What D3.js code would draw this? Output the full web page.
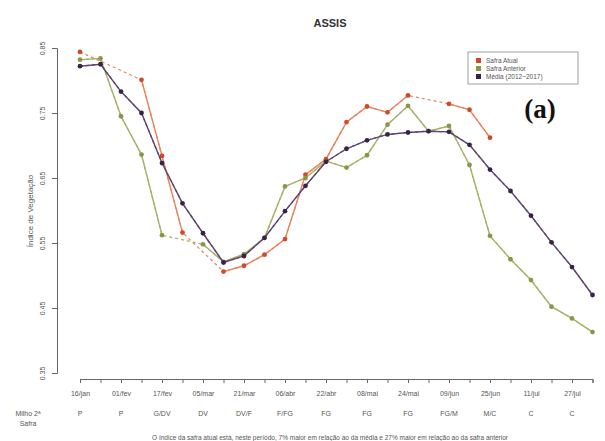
<!DOCTYPE html>
<html>
<head>
<meta charset="utf-8">
<script src="https://cdn.jsdelivr.net/npm/d3@7"></script>
<style>
  body { margin: 0; background: #fff; }
  svg { font-family: "Liberation Sans", Arial, sans-serif; }
</style>
</head>
<body>
<script>
// Rótulos de datas (a cada 16 dias) e estádios do milho
var datas = ["16/jan", "01/fev", "17/fev", "05/mar", "21/mar", "06/abr", "22/abr",
             "08/mai", "24/mai", "09/jun", "25/jun", "11/jul", "27/jul"];
var estadios = ["P", "P", "G/DV", "DV", "DV/F", "F/FG", "FG", "FG", "FG", "FG/M", "M/C", "C", "C"];

// Índice de vegetação a cada 8 dias (null = sem dado)
var safraAtual = [0.844, null, null, 0.801, 0.684, 0.566, null, 0.506, 0.515, 0.532, 0.556, 0.655, 0.679,
                  0.736, 0.760, 0.751, 0.777, null, 0.764, 0.755, 0.712, null, null, null, null, null];
var safraAnterior = [0.832, 0.834, 0.745, 0.686, 0.562, null, 0.548, 0.521, 0.533, 0.558, 0.637, 0.650, 0.676,
                     0.666, 0.685, 0.732, 0.761, 0.722, 0.730, 0.670, 0.561, 0.525, 0.493, 0.452, 0.434, 0.413];
var media = [0.822, 0.825, 0.783, 0.750, 0.673, 0.611, 0.565, 0.520, 0.530, 0.558, 0.599, 0.638, 0.675,
             0.695, 0.708, 0.717, 0.720, 0.722, 0.721, 0.701, 0.663, 0.630, 0.592, 0.551, 0.513, 0.470];
var yTicks = [0.35, 0.45, 0.55, 0.65, 0.75, 0.85];

var series = [
  { nome: "Safra Atual", valores: safraAtual, linha: "#e8825c", ponto: "#d0492c" },
  { nome: "Safra Anterior", valores: safraAnterior, linha: "#a9b066", ponto: "#8a964a" },
  { nome: "Média (2012~2017)", valores: media, linha: "#5e4570", ponto: "#3a2148" }
];

var svgWidth = 605;
var svgHeight = 441;

var svg = d3.select("body")
  .append("svg")
  .attr("width", svgWidth)
  .attr("height", svgHeight);

// Escalas
var xScale = d3.scaleLinear().domain([0, 25]).range([80, 592.5]);
var yScale = d3.scaleLinear().domain([0.35, 0.85]).range([373, 48]);

// Título
svg.append("text")
  .attr("x", 330).attr("y", 27)
  .attr("text-anchor", "middle")
  .attr("font-size", 11).attr("font-weight", "bold")
  .attr("fill", "#333")
  .text("ASSIS");

// Eixo y
var eixoY = svg.append("g")
  .attr("transform", "translate(57,0)")
  .call(d3.axisLeft(yScale).tickValues(yTicks).tickSizeOuter(0).tickSize(5)
    .tickFormat(d3.format(".2f")));
eixoY.select(".domain").attr("stroke", "#666");
eixoY.selectAll(".tick line").attr("stroke", "#666");
eixoY.selectAll(".tick text")
  .attr("font-size", 7).attr("fill", "#555")
  .attr("transform", "rotate(-90)")
  .attr("x", 0).attr("y", -12)
  .attr("dy", 0)
  .attr("text-anchor", "middle");

svg.append("text")
  .attr("transform", "translate(33,211) rotate(-90)")
  .attr("text-anchor", "middle")
  .attr("font-size", 8).attr("fill", "#555")
  .text("Índice de Vegetação");

// Eixo x
var eixoX = svg.append("g")
  .attr("transform", "translate(0,379)")
  .call(d3.axisBottom(xScale).tickValues(d3.range(26)).tickSizeOuter(0).tickSize(4)
    .tickFormat(function(i) { return i % 2 === 0 ? datas[i / 2] : ""; }));
eixoX.select(".domain").attr("stroke", "#666");
eixoX.selectAll(".tick line").attr("stroke", "#666");
eixoX.selectAll(".tick text")
  .attr("font-size", 7).attr("fill", "#555")
  .attr("y", 12);

// Estádios
svg.append("text")
  .attr("x", 28).attr("y", 416)
  .attr("text-anchor", "middle")
  .attr("font-size", 7).attr("fill", "#555")
  .text("Milho 2ª");
svg.append("text")
  .attr("x", 28).attr("y", 426)
  .attr("text-anchor", "middle")
  .attr("font-size", 7).attr("fill", "#555")
  .text("Safra");
svg.selectAll(".estadio")
  .data(estadios)
  .enter().append("text")
  .attr("class", "estadio")
  .attr("x", function(d, i) { return xScale(i * 2); })
  .attr("y", 416)
  .attr("text-anchor", "middle")
  .attr("font-size", 7).attr("fill", "#555")
  .text(function(d) { return d; });

svg.append("text")
  .attr("x", 330).attr("y", 440)
  .attr("text-anchor", "middle")
  .attr("font-size", 6.5).attr("fill", "#555")
  .text("O índice da safra atual está, neste período, 7% maior em relação ao da média e 27% maior em relação ao da safra anterior");

// Linhas
var linhaSolida = d3.line()
  .defined(function(d) { return d !== null; })
  .x(function(d, i) { return xScale(i); })
  .y(function(d) { return yScale(d); });

var linhaTracejada = d3.line()
  .x(function(d) { return xScale(d.i); })
  .y(function(d) { return yScale(d.v); });

series.forEach(function(s) {
  var validos = s.valores
    .map(function(v, i) { return { i: i, v: v }; })
    .filter(function(d) { return d.v !== null; });

  // trecho tracejado sobre os dados ausentes
  svg.append("path")
    .datum(validos)
    .attr("fill", "none")
    .attr("stroke", s.linha)
    .attr("stroke-width", 1.2)
    .attr("stroke-dasharray", "3,3")
    .attr("d", linhaTracejada);

  svg.append("path")
    .datum(s.valores)
    .attr("fill", "none")
    .attr("stroke", s.linha)
    .attr("stroke-width", 1.4)
    .attr("d", linhaSolida);

  svg.selectAll(null)
    .data(validos)
    .enter().append("circle")
    .attr("cx", function(d) { return xScale(d.i); })
    .attr("cy", function(d) { return yScale(d.v); })
    .attr("r", 2.4)
    .attr("fill", s.ponto);
});

// Legenda
var legenda = svg.append("g").attr("transform", "translate(468,52)");
legenda.append("rect")
  .attr("width", 110).attr("height", 32)
  .attr("fill", "#fff").attr("stroke", "#888").attr("stroke-width", 0.8);
series.forEach(function(s, k) {
  legenda.append("rect")
    .attr("x", 8).attr("y", 6 + k * 8)
    .attr("width", 5).attr("height", 5)
    .attr("fill", s.ponto);
  legenda.append("text")
    .attr("x", 18).attr("y", 11 + k * 8)
    .attr("font-size", 6.5).attr("fill", "#555")
    .text(s.nome);
});

// Painel
svg.append("text")
  .attr("x", 540).attr("y", 118)
  .attr("text-anchor", "middle")
  .attr("font-family", "Liberation Serif, Times New Roman, serif")
  .attr("font-size", 27).attr("font-weight", "bold")
  .attr("fill", "#111")
  .text("(a)");
</script>
</body>
</html>
